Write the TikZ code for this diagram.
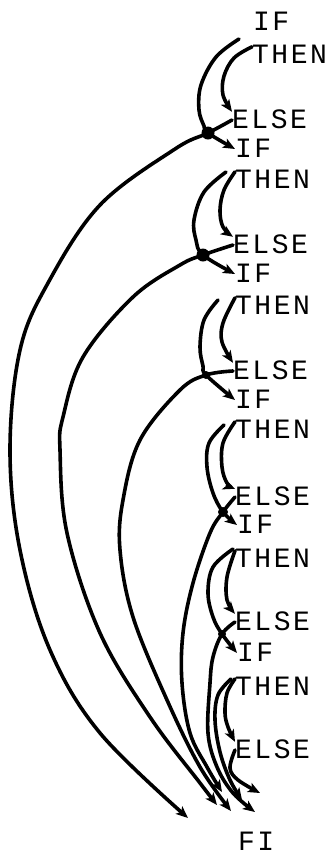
\documentclass[tikz,border=0pt]{standalone}
\usepackage{fontspec}
\newfontfamily\kwfont{Liberation Mono}
\usetikzlibrary{arrows.meta}
\newcommand\kwgap{\kern2.5pt}
\begin{document}
\begin{tikzpicture}[x=1pt,y=-1pt,
  kw/.style={font=\kwfont\fontsize{28}{28}\selectfont, anchor=base west, inner sep=0pt, text height=16pt, text depth=0pt},
  flow/.style={line width=3.6pt, line cap=round, line join=round, -{Stealth[length=12pt,width=10pt,inset=3pt]}},
  blob/.style={circle, fill, inner sep=0pt, minimum size=#1}]
\useasboundingbox (0,0) rectangle (327,855);
% keywords
\node[kw] (if1)   at (253,30)  {I\kwgap F};
\node[kw] (then1) at (252,63)  {T\kwgap H\kwgap E\kwgap N};
\node[kw] (else1) at (232,128) {E\kwgap L\kwgap S\kwgap E};
\node[kw] (if2)   at (235,157) {I\kwgap F};
\node[kw] (then2) at (235,188) {T\kwgap H\kwgap E\kwgap N};
\node[kw] (else2) at (233,253) {E\kwgap L\kwgap S\kwgap E};
\node[kw] (if3)   at (235,282) {I\kwgap F};
\node[kw] (then3) at (235,314) {T\kwgap H\kwgap E\kwgap N};
\node[kw] (else3) at (233,379) {E\kwgap L\kwgap S\kwgap E};
\node[kw] (if4)   at (235,408) {I\kwgap F};
\node[kw] (then4) at (235,438) {T\kwgap H\kwgap E\kwgap N};
\node[kw] (else4) at (235,505) {E\kwgap L\kwgap S\kwgap E};
\node[kw] (if5)   at (237,533) {I\kwgap F};
\node[kw] (then5) at (235,567) {T\kwgap H\kwgap E\kwgap N};
\node[kw] (else5) at (235,630) {E\kwgap L\kwgap S\kwgap E};
\node[kw] (if6)   at (237,661) {I\kwgap F};
\node[kw] (then6) at (235,695) {T\kwgap H\kwgap E\kwgap N};
\node[kw] (else6) at (235,758) {E\kwgap L\kwgap S\kwgap E};
\node[kw] (fi)    at (238,850) {F\kwgap I};
% junction dots
\node[blob=13pt] (d1) at (208,133) {};
\node[blob=13pt] (d2) at (203,255) {};
\node[blob=8pt]  (d3) at (206,375) {};
\node[blob=10pt] (d4) at (223,512) {};
\node[blob=8pt]  (d5) at (222,634) {};
% arrow ends near FI
\coordinate (f1) at (188,818);
\coordinate (f2) at (217,805);
\coordinate (f3) at (231,811);
\coordinate (f4) at (222,792);
\coordinate (f5) at (255,812);
\coordinate (f6) at (242,800);
\coordinate (f7) at (260,793);
% block 1
\draw[flow] plot[smooth,tension=0.6] coordinates {(239,39) (216,57) (201,85) (199,110) (204,126) (d1.center) (if2.west)};
\draw[flow] plot[smooth,tension=0.6] coordinates {(then1.north west) (234,58) (224,76) (223,95) (else1.north west)};
\draw[flow] plot[smooth,tension=0.6] coordinates {(else1.west) (d1.center) (175,149) (100,205) (48,283) (20,350) (10,450) (20,550) (50,650) (100,733) (f1)};
% block 2
\draw[flow] plot[smooth,tension=0.6] coordinates {(226,172) (204,192) (194,220) (196,240) (d2.center) (if3.west)};
\draw[flow] plot[smooth,tension=0.6] coordinates {(then2.north west) (224,190) (220,210) (223,227) (else2.north west)};
\draw[flow] plot[smooth,tension=0.6] coordinates {(else2.west) (d2.center) (180,265) (133,297) (83,357) (63,417) (60,450) (67,533) (100,633) (150,717) (200,783) (f2)};
% block 3
\draw[flow] plot[smooth,tension=0.6] coordinates {(218,300) (204,320) (200,347) (203,366) (d3.center) (if4.west)};
\draw[flow] plot[smooth,tension=0.6] coordinates {(then3.north west) (223,323) (222,342) (else3.north west)};
\draw[flow] plot[smooth,tension=0.6] coordinates {(else3.west) (d3.center) (180,390) (140,440) (123,500) (120,550) (133,617) (167,700) (200,767) (f3)};
% block 4
\draw[flow] plot[smooth,tension=0.6] coordinates {(224,425) (209,443) (207,467) (213,493) (d4.center) (if5.west)};
\draw[flow] plot[smooth,tension=0.6] coordinates {(then4.north west) (223,443) (222,467) (227,483) (else4.north west)};
\draw[flow] plot[smooth,tension=0.6] coordinates {(else4.west) (d4.center) (210,533) (193,583) (183,633) (182,683) (190,733) (207,767) (f4)};
% block 5
\draw[flow] plot[smooth,tension=0.6] coordinates {(233,549) (213,567) (208,593) (213,617) (d5.center) (if6.west)};
\draw[flow] plot[smooth,tension=0.6] coordinates {(then5.north west) (227,577) (227,600) (else5.north west)};
\draw[flow] plot[smooth,tension=0.6] coordinates {(else5.west) (d5.center) (213,657) (210,683) (208,733) (217,767) (233,793) (f5)};
% block 6
\draw[flow] plot[smooth,tension=0.6] coordinates {(then6.north west) (227,693) (225,713) (228,727) (else6.north west)};
\draw[flow] plot[smooth,tension=0.6] coordinates {(231,679) (218,695) (215,720) (220,752) (230,780) (f6)};
\draw[flow] plot[smooth,tension=0.6] coordinates {(else6.west) (230,768) (238,780) (f7)};
\end{tikzpicture}
\end{document}
